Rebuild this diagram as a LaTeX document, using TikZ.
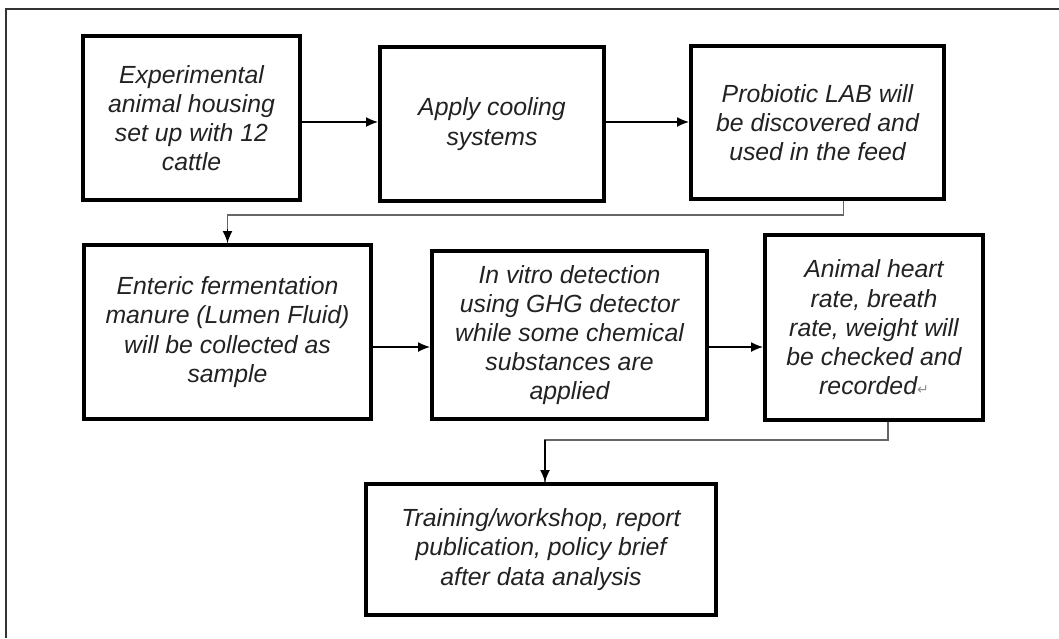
\documentclass[tikz,border=0pt]{standalone}
\usepackage{fontspec}
\setmainfont{Liberation Sans}
\newfontfamily\symfont{DejaVu Sans}
\usetikzlibrary{arrows.meta}
\definecolor{ink}{HTML}{222222}
\tikzset{
  box/.style={draw, line width=2pt, align=center, text=ink,
    font=\fontsize{12.4}{14.6}\selectfont\itshape, inner sep=0pt},
  arr/.style={-{Latex[length=6pt,width=5pt]}, line width=0.7pt},
  elbow/.style={draw=black!60, line width=0.6pt}
}
\begin{document}
\begin{tikzpicture}[x=0.5pt,y=-0.5pt]
       \useasboundingbox (0,0) rectangle (1059,638);
       \draw[black!80, line width=0.8pt] (6,638) -- (6,9) -- (1059,9);
       % first row
       \node[box, minimum width=108.5pt, minimum height=82pt] (b1) at (191.5,118)
         {Experimental\\animal housing\\set up with 12\\cattle};
       \node[box, minimum width=112pt, minimum height=77pt] (b2) at (492,124)
         {Apply cooling\\systems};
       \node[box, minimum width=126.5pt, minimum height=76.5pt] (b3) at (817.5,122.5)
         {Probiotic LAB will\\be discovered and\\used in the feed};
       % second row
       \node[box, minimum width=143.5pt, minimum height=87pt] (b4) at (227.5,332)
         {Enteric fermentation\\manure (Lumen Fluid)\\will be collected as\\sample};
       \node[box, minimum width=137.5pt, minimum height=84pt] (b5) at (569.5,335)
         {In vitro detection\\using GHG detector\\while some chemical\\substances are\\applied};
       \node[box, minimum width=109pt, minimum height=92.5pt] (b6) at (874,327.5)
         {Animal heart\\rate, breath\\rate, weight will\\be checked and\\recorded{\symfont\color{black!45}\fontsize{7}{7}\selectfont\upshape ↵}};
       % last row
       \node[box, minimum width=175pt, minimum height=65.5pt] (b7) at (541,549.5)
         {Training/workshop, report\\publication, policy brief\\after data analysis};
       % arrows
       \draw[arr] ([yshift=-2pt]b1.east) -- ([yshift=-2pt]b1.east -| b2.west);
       \draw[arr] ([yshift=1pt]b2.east) -- ([yshift=1pt]b2.east -| b3.west);
       \draw[arr] ([yshift=-7.5pt]b4.east) -- ([yshift=-7.5pt]b4.east -| b5.west);
       \draw[arr] ([yshift=-6pt]b5.east) -- ([yshift=-6pt]b5.east -| b6.west);
       \draw[elbow] ([xshift=13pt]b3.south) -- ++(0,14) -| (b4.north);
       \draw[arr] (b4.north) ++(0,-14) -- (b4.north);
       \draw[elbow] ([xshift=7pt]b6.south) -- ++(0,18) -| ([xshift=2pt]b7.north);
       \draw[arr] ([xshift=2pt]b7.north) ++(0,-42) -- ([xshift=2pt]b7.north);
\end{tikzpicture}
\end{document}
